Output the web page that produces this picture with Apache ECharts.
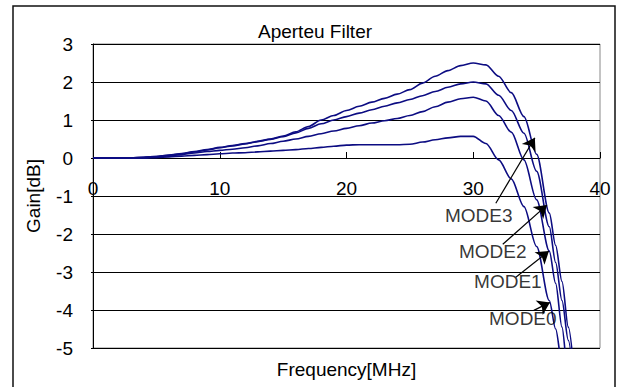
<!DOCTYPE html>
<html>
<head>
<meta charset="utf-8">
<script src="https://cdn.jsdelivr.net/npm/echarts@6/dist/echarts.min.js"></script>
<style>
html,body{margin:0;padding:0;background:#fff;}
#chart{width:618px;height:387px;}
</style>
</head>
<body>
<div id="chart"></div>
<script>
const freq = [0,1,2,3,4,5,6,7,8,9,10,11,12,13,14,15,16,17,18,19,20,21,22,23,24,25,26,27,28,29,30,31,32,33,34,35,36,36.5,37,37.5,38];
const mode3 = [0,0,0,0,0.02,0.04,0.08,0.12,0.17,0.22,0.28,0.33,0.38,0.44,0.5,0.58,0.69,0.83,1.0,1.12,1.25,1.36,1.47,1.57,1.68,1.8,1.97,2.15,2.3,2.43,2.5,2.45,2.15,1.72,1.09,0.1,-1.45,-2.3,-3.25,-4.45,-5.8];
const mode2 = [0,0,0,0,0.02,0.04,0.07,0.11,0.16,0.21,0.27,0.32,0.37,0.43,0.49,0.56,0.66,0.78,0.9,1.0,1.09,1.18,1.27,1.36,1.45,1.54,1.64,1.75,1.86,1.95,2.0,1.95,1.65,1.25,0.65,-0.35,-1.81,-2.75,-3.75,-4.8,-6.2];
const mode1 = [0,0,0,0,0,0.03,0.06,0.09,0.13,0.17,0.2,0.23,0.27,0.32,0.38,0.44,0.5,0.57,0.64,0.71,0.78,0.85,0.92,0.98,1.04,1.12,1.22,1.35,1.47,1.56,1.6,1.5,1.12,0.68,-0.05,-1.1,-2.45,-3.3,-4.45,-5.8,-7];
const mode0 = [0,0,0,0,0,0.01,0.03,0.05,0.07,0.09,0.11,0.13,0.14,0.16,0.18,0.2,0.22,0.25,0.28,0.31,0.34,0.35,0.35,0.35,0.35,0.36,0.42,0.48,0.53,0.57,0.57,0.38,-0.05,-0.55,-1.28,-2.33,-3.75,-4.5,-5.4,-6.5,-7.5];
const xTicks = [0,10,20,30,40];
const yTicks = [-5,-4,-3,-2,-1,0,1,2,3];
const annoNames = ['MODE3','MODE2','MODE1','MODE0'];
const annoTextX = [30.43,31.54,32.73,33.91];
const annoTextY = [-1.5,-2.45,-3.25,-4.22];
const arrowFromX = [31.78,32.33,33.36,34.78];
const arrowFromY = [-1.19,-2.27,-3.14,-4.01];
const arrowToX = [34.86,35.81,35.97,36.05];
const arrowToY = [0.53,-1.24,-2.45,-3.80];

const FONT = "'Liberation Sans', Arial, sans-serif";
const LINE = '#0c0c82';
const GRID_TOP = 44, GRID_BOTTOM = 39, H = 387;
const plotH = H - GRID_TOP - GRID_BOTTOM;
// distance from bottom edge of plot to y=0 (via the y range)
const zeroOffset = plotH * (0 - yTicks[0]) / (yTicks[yTicks.length-1] - yTicks[0]);

const pairs = ys => freq.map((f,i)=>[f, ys[i]]);
const mk = (name, ys) => ({
  name, type:'line', data: pairs(ys), showSymbol:false, symbol:'none',
  smooth:0.3, smoothMonotone:'x', clip:true,
  lineStyle:{color:LINE, width:1.6}, silent:true, animation:false, z:3
});

const arrows = annoNames.map((n,i)=>[
  {coord:[arrowFromX[i], arrowFromY[i]]},
  {coord:[arrowToX[i], arrowToY[i]]}
]);

const chart = echarts.init(document.getElementById('chart'), null, {renderer:'svg'});
chart.setOption({
  animation:false,
  backgroundColor:'#fff',
  textStyle:{fontFamily:FONT},
  graphic:[
    {type:'rect', shape:{x:13,y:6,width:602,height:400}, style:{fill:'none', stroke:'#111', lineWidth:1.5}, z:0},
    {type:'text', x:315, y:31, style:{text:'Aperteu Filter', font:"19px 'Liberation Sans', Arial, sans-serif", fill:'#000', textAlign:'center', textVerticalAlign:'middle'}, z:10}
  ],
  grid:{left:93, right:18, top:GRID_TOP, bottom:GRID_BOTTOM, containLabel:false, outerBoundsMode:'none', show:true, borderColor:'#888', borderWidth:1, backgroundColor:'transparent'},
  xAxis:{
    type:'value', min:xTicks[0], max:xTicks[xTicks.length-1], interval:10,
    position:'bottom', offset:-zeroOffset,
    name:'Frequency[MHz]', nameLocation:'middle', nameGap:202,
    nameTextStyle:{fontSize:19, color:'#000', fontFamily:FONT},
    axisLine:{show:true, onZero:false, lineStyle:{color:'#000', width:1}},
    axisTick:{show:true, inside:true, length:6, lineStyle:{color:'#000'}},
    axisLabel:{fontSize:19, color:'#000', margin:21, fontFamily:FONT},
    splitLine:{show:false}
  },
  yAxis:{
    type:'value', min:yTicks[0], max:yTicks[yTicks.length-1], interval:1,
    name:'Gain[dB]', nameLocation:'middle', nameGap:50, nameRotate:90,
    nameTextStyle:{fontSize:19, color:'#000', fontFamily:FONT},
    axisLine:{show:true, onZero:false, lineStyle:{color:'#000', width:1}},
    axisTick:{show:true, length:2, lineStyle:{color:'#000'}},
    axisLabel:{fontSize:19, color:'#000', margin:20, fontFamily:FONT},
    splitLine:{show:true, lineStyle:{color:'#000', width:1}}
  },
  series:[
    mk('MODE0', mode0),
    mk('MODE1', mode1),
    mk('MODE2', mode2),
    mk('MODE3', mode3),
    {
      name:'annotations', type:'scatter', symbolSize:1, silent:true, z:5,
      itemStyle:{color:'rgba(0,0,0,0)'},
      data: annoNames.map((n,i)=>[annoTextX[i], annoTextY[i], n]),
      label:{show:true, position:'inside', formatter:p=>p.data[2], fontSize:19, color:'#000', fontFamily:FONT},
      markLine:{
        silent:true, symbol:['none','arrow'], symbolSize:12, animation:false, z:6,
        itemStyle:{color:'#000'},
        lineStyle:{color:'#000', width:1.2, type:'solid'},
        label:{show:false},
        data: arrows
      }
    }
  ]
});
</script>
</body>
</html>
